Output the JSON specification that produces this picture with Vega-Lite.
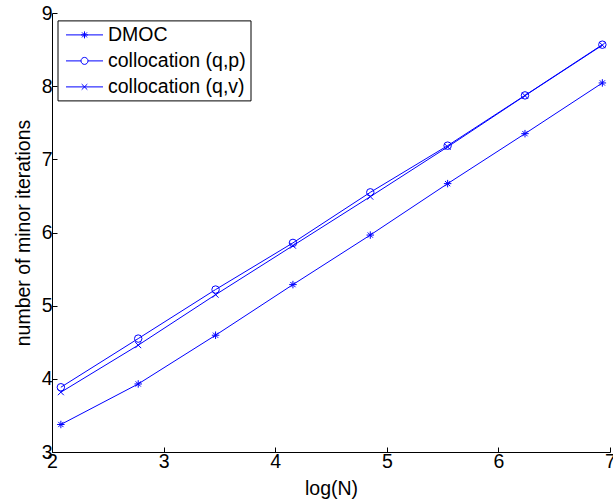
{
  "$schema": "https://vega.github.io/schema/vega-lite/v6.json",
  "width": 558,
  "height": 439,
  "autosize": {"type": "none"},
  "padding": {"left": 52, "top": 13, "right": 3, "bottom": 51},
  "background": "white",
  "config": {
    "view": {"stroke": null},
    "font": "Liberation Sans",
    "axis": {
      "domainColor": "black",
      "domainWidth": 1,
      "tickColor": "black",
      "labelColor": "black",
      "titleColor": "black",
      "labelFont": "Liberation Sans",
      "titleFont": "Liberation Sans",
      "labelFontSize": 19.5,
      "titleFontSize": 19.5,
      "titleFontWeight": "normal",
      "tickSize": -5,
      "grid": false,
      "labelFlush": false
    }
  },
  "data": {
    "values": [
      {"logN": 2.0794, "iter": 3.376, "method": "DMOC", "marker": "star"},
      {"logN": 2.7726, "iter": 3.930, "method": "DMOC", "marker": "star"},
      {"logN": 3.4657, "iter": 4.596, "method": "DMOC", "marker": "star"},
      {"logN": 4.1589, "iter": 5.288, "method": "DMOC", "marker": "star"},
      {"logN": 4.8520, "iter": 5.965, "method": "DMOC", "marker": "star"},
      {"logN": 5.5452, "iter": 6.668, "method": "DMOC", "marker": "star"},
      {"logN": 6.2383, "iter": 7.351, "method": "DMOC", "marker": "star"},
      {"logN": 6.9315, "iter": 8.044, "method": "DMOC", "marker": "star"},
      {"logN": 2.0794, "iter": 3.885, "method": "collocation (q,p)", "marker": "circle"},
      {"logN": 2.7726, "iter": 4.550, "method": "collocation (q,p)", "marker": "circle"},
      {"logN": 3.4657, "iter": 5.220, "method": "collocation (q,p)", "marker": "circle"},
      {"logN": 4.1589, "iter": 5.858, "method": "collocation (q,p)", "marker": "circle"},
      {"logN": 4.8520, "iter": 6.549, "method": "collocation (q,p)", "marker": "circle"},
      {"logN": 5.5452, "iter": 7.187, "method": "collocation (q,p)", "marker": "circle"},
      {"logN": 6.2383, "iter": 7.874, "method": "collocation (q,p)", "marker": "circle"},
      {"logN": 6.9315, "iter": 8.567, "method": "collocation (q,p)", "marker": "circle"},
      {"logN": 2.0794, "iter": 3.817, "method": "collocation (q,v)", "marker": "x"},
      {"logN": 2.7726, "iter": 4.460, "method": "collocation (q,v)", "marker": "x"},
      {"logN": 3.4657, "iter": 5.150, "method": "collocation (q,v)", "marker": "x"},
      {"logN": 4.1589, "iter": 5.820, "method": "collocation (q,v)", "marker": "x"},
      {"logN": 4.8520, "iter": 6.490, "method": "collocation (q,v)", "marker": "x"},
      {"logN": 5.5452, "iter": 7.170, "method": "collocation (q,v)", "marker": "x"},
      {"logN": 6.2383, "iter": 7.870, "method": "collocation (q,v)", "marker": "x"},
      {"logN": 6.9315, "iter": 8.560, "method": "collocation (q,v)", "marker": "x"}
    ]
  },
  "encoding": {
    "x": {
      "field": "logN", "type": "quantitative",
      "scale": {"domain": [2, 7], "nice": false, "zero": false},
      "axis": {"title": "log(N)", "values": [2, 3, 4, 5, 6, 7], "labelPadding": 5, "titlePadding": 9}
    },
    "y": {
      "field": "iter", "type": "quantitative",
      "scale": {"domain": [3, 9], "nice": false, "zero": false},
      "axis": {"title": "number of minor iterations", "values": [3, 4, 5, 6, 7, 8, 9], "labelPadding": 5, "titlePadding": 8}
    }
  },
  "layer": [
    {
      "mark": {"type": "line", "strokeWidth": 1, "clip": false},
      "encoding": {
        "color": {
          "field": "method", "type": "nominal",
          "scale": {"domain": ["DMOC", "collocation (q,p)", "collocation (q,v)"], "range": ["#0000ff", "#0000ff", "#0000ff"]},
          "legend": {
            "title": null,
            "orient": "none",
            "legendX": 5.5,
            "legendY": 7.4,
            "strokeColor": "black",
            "fillColor": "white",
            "padding": 4,
            "symbolSize": 400,
            "symbolType": "M-1.85,0L1.85,0",
            "symbolOffset": 12.5,
            "labelOffset": 13,
            "rowPadding": 6,
            "labelFont": "Liberation Sans",
            "labelFontSize": 19.5,
            "labelColor": "black",
            "labelLimit": 400,
            "encode": {
              "symbols": {
                "update": {
                  "shape": {"signal": "datum.value === 'DMOC' ? 'M-1.85,0L1.85,0M-0.35,0L0.35,0M0,-0.35L0,0.35M-0.25,-0.25L0.25,0.25M-0.25,0.25L0.25,-0.25' : datum.value === 'collocation (q,p)' ? 'M-1.85,0L-0.35,0M0.35,0L1.85,0M-0.35,0A0.35,0.35 0 1,1 0.35,0A0.35,0.35 0 1,1 -0.35,0' : 'M-1.85,0L1.85,0M-0.28,-0.28L0.28,0.28M-0.28,0.28L0.28,-0.28'"},
                  "fill": {"value": "transparent"},
                  "stroke": {"value": "#0000ff"},
                  "strokeWidth": {"value": 1},
                  "opacity": {"value": 1}
                }
              }
            }
          }
        }
      }
    },
    {
      "mark": {"type": "point", "filled": false, "color": "#0000ff", "strokeWidth": 1, "size": 56, "opacity": 1, "clip": false},
      "encoding": {
        "shape": {
          "field": "marker", "type": "nominal",
          "scale": {"domain": ["star", "circle", "x"], "range": ["M-1,0L1,0M0,-1L0,1M-0.7,-0.7L0.7,0.7M-0.7,0.7L0.7,-0.7", "circle", "M-0.8,-0.8L0.8,0.8M-0.8,0.8L0.8,-0.8"]},
          "legend": null
        }
      }
    }
  ]
}
